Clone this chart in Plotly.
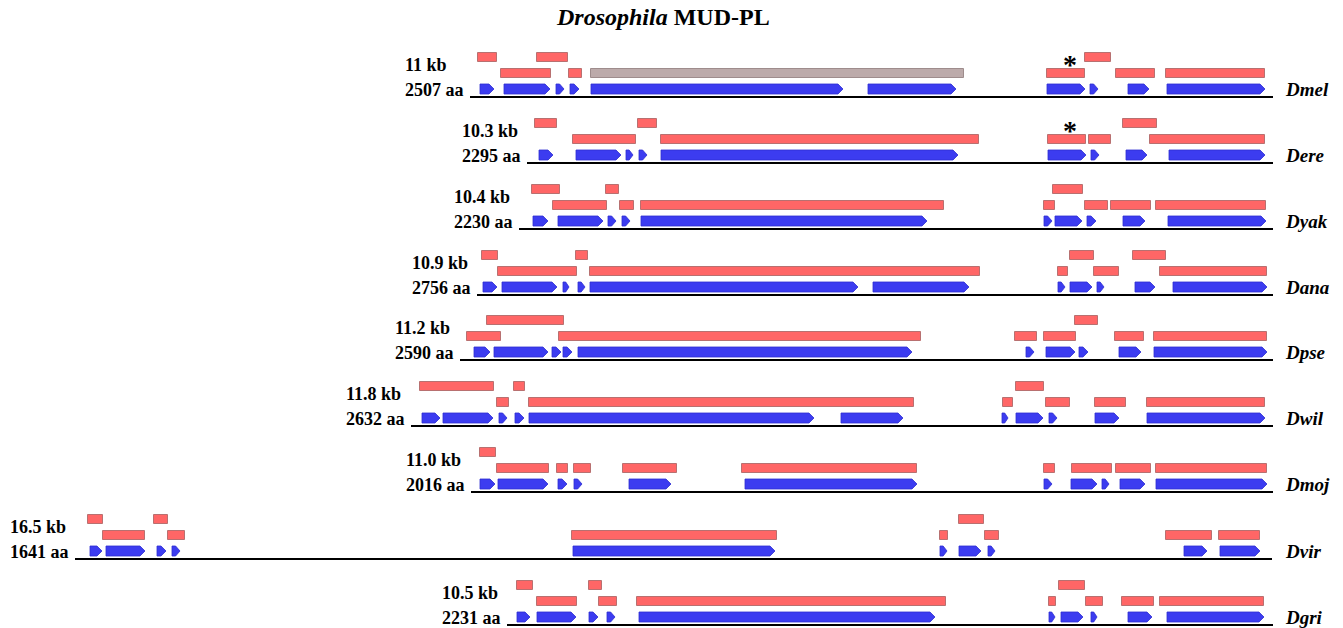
import plotly.graph_objects as go

# ---------------- data ----------------
species = ["Dmel", "Dere", "Dyak", "Dana", "Dpse", "Dwil", "Dmoj", "Dvir", "Dgri"]
kb_labels = ["11 kb", "10.3 kb", "10.4 kb", "10.9 kb", "11.2 kb", "11.8 kb", "11.0 kb", "16.5 kb", "10.5 kb"]
aa_labels = ["2507 aa", "2295 aa", "2230 aa", "2756 aa", "2590 aa", "2632 aa", "2016 aa", "1641 aa", "2231 aa"]

# baseline (genomic span) start / end per species, in drawing units
line_start = [470, 527, 519, 477, 460, 411, 471, 75, 507]
line_end = [1273, 1273, 1273, 1273, 1273, 1273, 1273, 1272, 1273]

# exons (blue arrows)
exons = [
    [(480, 494), (504, 550), (556, 564), (570, 579), (591, 843), (868, 956), (1047, 1085), (1090, 1098), (1128, 1149), (1167, 1265)],
    [(539, 553), (576, 621), (626, 633), (639, 647), (661, 958), (1048, 1086), (1091, 1099), (1126, 1147), (1169, 1265)],
    [(533, 548), (558, 603), (608, 616), (622, 630), (641, 927), (1044, 1052), (1055, 1082), (1087, 1096), (1123, 1145), (1168, 1266)],
    [(483, 497), (502, 557), (563, 569), (578, 585), (590, 858), (873, 969), (1058, 1065), (1070, 1092), (1097, 1104), (1135, 1155), (1173, 1267)],
    [(474, 490), (494, 548), (552, 561), (563, 572), (578, 912), (1026, 1034), (1046, 1075), (1079, 1088), (1119, 1141), (1154, 1267)],
    [(422, 440), (443, 493), (499, 507), (515, 524), (529, 814), (841, 903), (1002, 1008), (1016, 1043), (1049, 1057), (1095, 1119), (1147, 1265)],
    [(480, 495), (498, 548), (558, 567), (574, 582), (629, 671), (745, 917), (1044, 1052), (1071, 1097), (1102, 1109), (1120, 1145), (1156, 1267)],
    [(90, 102), (106, 145), (157, 166), (172, 180), (573, 775), (940, 947), (959, 981), (988, 995), (1184, 1207), (1220, 1260)],
    [(517, 530), (537, 576), (589, 598), (607, 615), (639, 935), (1049, 1055), (1061, 1083), (1091, 1097), (1128, 1152), (1167, 1264)],
]

# predicted transcripts / alignments (red boxes), upper tier
upper_boxes = [
    [(478, 497), (537, 568), (1085, 1111)],
    [(535, 557), (638, 657), (1123, 1157)],
    [(532, 560), (606, 619), (1053, 1083)],
    [(482, 498), (576, 588), (1070, 1094), (1133, 1166)],
    [(487, 564), (1075, 1098)],
    [(420, 494), (514, 525), (1016, 1044)],
    [(480, 496)],
    [(88, 103), (154, 168), (959, 984)],
    [(517, 533), (589, 602), (1059, 1085)],
]

# lower tier
lower_boxes = [
    [(501, 551), (569, 582), (1047, 1085), (1116, 1155), (1166, 1265)],
    [(573, 636), (661, 979), (1048, 1086), (1089, 1111), (1150, 1265)],
    [(553, 607), (620, 634), (641, 944), (1044, 1055), (1085, 1108), (1111, 1151), (1156, 1266)],
    [(498, 577), (590, 980), (1058, 1068), (1094, 1119), (1160, 1267)],
    [(467, 501), (559, 921), (1015, 1037), (1044, 1076), (1115, 1144), (1154, 1267)],
    [(497, 509), (529, 914), (1003, 1013), (1046, 1070), (1095, 1126), (1147, 1265)],
    [(497, 549), (557, 568), (574, 591), (623, 677), (742, 917), (1044, 1055), (1072, 1112), (1116, 1151), (1156, 1267)],
    [(103, 145), (168, 185), (572, 777), (940, 948), (985, 999), (1166, 1212), (1219, 1260)],
    [(537, 577), (599, 617), (637, 946), (1049, 1056), (1086, 1103), (1122, 1154), (1160, 1264)],
]

# grey (unsupported) box in Dmel lower tier
grey_boxes = [[(591, 964)], [], [], [], [], [], [], [], []]

# asterisk marks (row index, x)
asterisks = [(0, 1070), (1, 1070)]

# ---------------- layout constants ----------------
W, H = 1343, 628
row_base = [97, 163, 229, 295, 360, 426, 492, 559, 625]
UP_C, UP_H = -40, 9
LO_C, LO_H = -23.5, 9
EX_TOP, EX_BOT = -13, -3
RED = "#FF6666"
RED_EDGE = "#B87070"
GREY = "#BCAAAA"
GREY_EDGE = "#9E8C8C"
BLUE = "#3C3CF0"
SERIF = "Liberation Serif, Times New Roman, serif"

fig = go.Figure()

# baselines
bx, by = [], []
for i in range(len(species)):
    bx += [line_start[i], line_end[i], None]
    by += [row_base[i], row_base[i], None]
fig.add_trace(go.Scatter(x=bx, y=by, mode="lines", line=dict(color="black", width=2.2),
                         hoverinfo="skip", showlegend=False))


def add_boxes(box_lists, center, height, fill, edge):
    ys, xs, bases = [], [], []
    for i, boxes in enumerate(box_lists):
        for s, e in boxes:
            ys.append(row_base[i] + center)
            xs.append(e - s)
            bases.append(s)
    if not xs:
        return
    fig.add_trace(go.Bar(orientation="h", y=ys, x=xs, base=bases, width=height,
                         marker=dict(color=fill, line=dict(color=edge, width=1)),
                         hoverinfo="skip", showlegend=False))


add_boxes(upper_boxes, UP_C, UP_H, RED, RED_EDGE)
add_boxes(lower_boxes, LO_C, LO_H, RED, RED_EDGE)
add_boxes(grey_boxes, LO_C, LO_H, GREY, GREY_EDGE)

# exon arrows
ax, ay = [], []
for i, ex in enumerate(exons):
    b = row_base[i]
    top, bot, mid = b + EX_TOP, b + EX_BOT, b + (EX_TOP + EX_BOT) / 2
    for s, e in ex:
        tip = min(5.0, (e - s) * 0.55)
        ax += [s, e - tip, e, e - tip, s, s, None]
        ay += [top, top, mid, bot, bot, top, None]
fig.add_trace(go.Scatter(x=ax, y=ay, mode="lines", fill="toself", fillcolor=BLUE,
                         line=dict(color="#2E2ED0", width=0.8), hoverinfo="skip", showlegend=False))

annotations = []
for i in range(len(species)):
    b = row_base[i]
    lx = line_start[i] - 67
    annotations.append(dict(x=lx, y=b - 32, text="<b>%s</b>" % kb_labels[i], xanchor="left", yanchor="middle",
                            showarrow=False, font=dict(family=SERIF, size=18, color="black")))
    annotations.append(dict(x=lx, y=b - 7, text="<b>%s</b>" % aa_labels[i], xanchor="left", yanchor="middle",
                            showarrow=False, font=dict(family=SERIF, size=18, color="black")))
    annotations.append(dict(x=1283, y=b - 8, text="<b><i>%s</i></b>" % species[i], xanchor="left", yanchor="middle",
                            showarrow=False, font=dict(family=SERIF, size=19, color="black")))

for r, x in asterisks:
    annotations.append(dict(x=x, y=row_base[r] - 33, text="<b>*</b>", xanchor="center", yanchor="middle",
                            showarrow=False, font=dict(family=SERIF, size=28, color="black")))

annotations.append(dict(x=663, y=17, text="<b><i>Drosophila</i> MUD-PL</b>", xanchor="center", yanchor="middle",
                        showarrow=False, font=dict(family=SERIF, size=24, color="black")))

fig.update_layout(
    width=W, height=H, margin=dict(l=0, r=0, t=0, b=0),
    paper_bgcolor="white", plot_bgcolor="white", barmode="overlay", bargap=0,
    xaxis=dict(range=[0, W], visible=False, fixedrange=True),
    yaxis=dict(range=[H, 0], visible=False, fixedrange=True),
    annotations=annotations, showlegend=False,
)

fig.write_html("out.html")
